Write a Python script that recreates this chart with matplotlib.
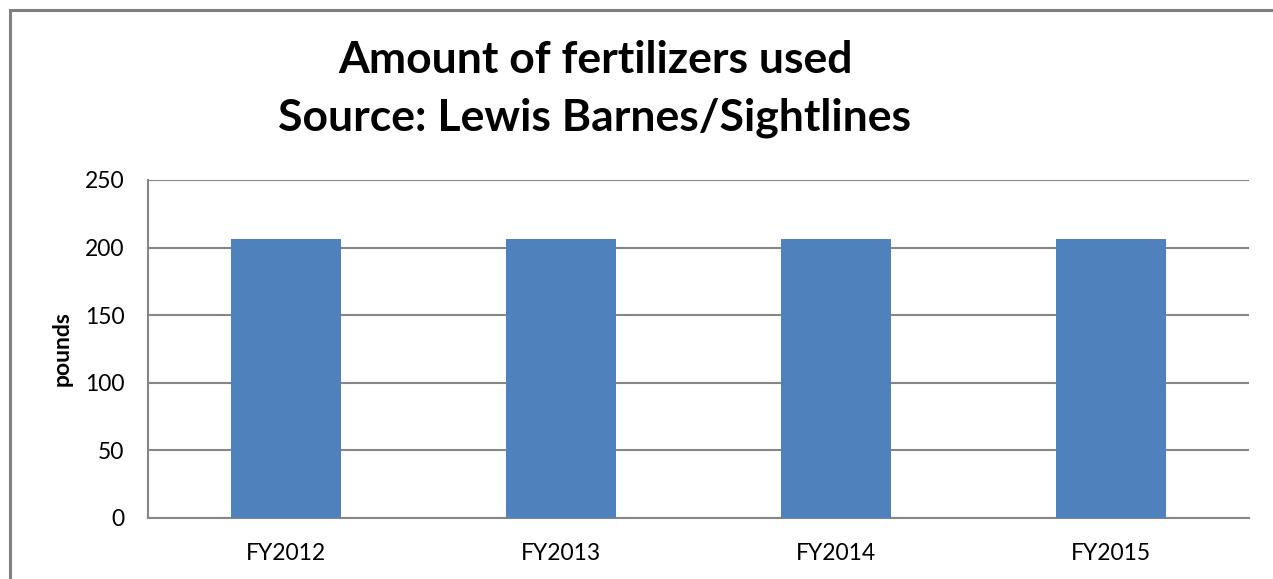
import matplotlib
matplotlib.use('Agg')
import matplotlib.pyplot as plt
from matplotlib.patches import Rectangle

categories = ['FY2012', 'FY2013', 'FY2014', 'FY2015']
pounds = [206, 206, 206, 206]
y_ticks = [0, 50, 100, 150, 200, 250]

plt.rcParams['font.family'] = ['Lato', 'DejaVu Sans']

W, H = 1273, 579
fig = plt.figure(figsize=(W / 100, H / 100), dpi=100)

# outer chart border (cut off on the right and bottom like the original)
fig.patches.append(Rectangle((10 / W, -0.1), 1.2, 1 - 10 / H + 0.1,
                             transform=fig.transFigure, fill=False,
                             edgecolor='#7f7f7f', linewidth=2.2))

ax = fig.add_axes([148 / W, 1 - 518 / H, (1249 - 148) / W, (518 - 180) / H])
ax.bar(categories, pounds, width=0.4, color='#4F81BD', zorder=3)
ax.set_xlim(-0.5, len(categories) - 0.5)
ax.set_ylim(0, 250)
ax.set_yticks(y_ticks)
ax.yaxis.grid(True, color='#868686', linewidth=1.5, zorder=0)
ax.tick_params(length=0, labelsize=16.5)
ax.tick_params(axis='y', pad=17)
ax.tick_params(axis='x', pad=18)
for s in ['top', 'right']:
    ax.spines[s].set_visible(False)
for s in ['left', 'bottom']:
    ax.spines[s].set_color('#868686')
    ax.spines[s].set_linewidth(1.5)
ax.set_ylabel('pounds', fontsize=16.5, fontweight='bold', labelpad=9)

fig.text(595 / W, 1 - 60 / H, 'Amount of fertilizers used', ha='center', va='center',
         fontsize=32, fontweight='bold')
fig.text(595 / W, 1 - 118 / H, 'Source: Lewis Barnes/Sightlines', ha='center', va='center',
         fontsize=32, fontweight='bold')

fig.savefig('out.png', dpi=100)
